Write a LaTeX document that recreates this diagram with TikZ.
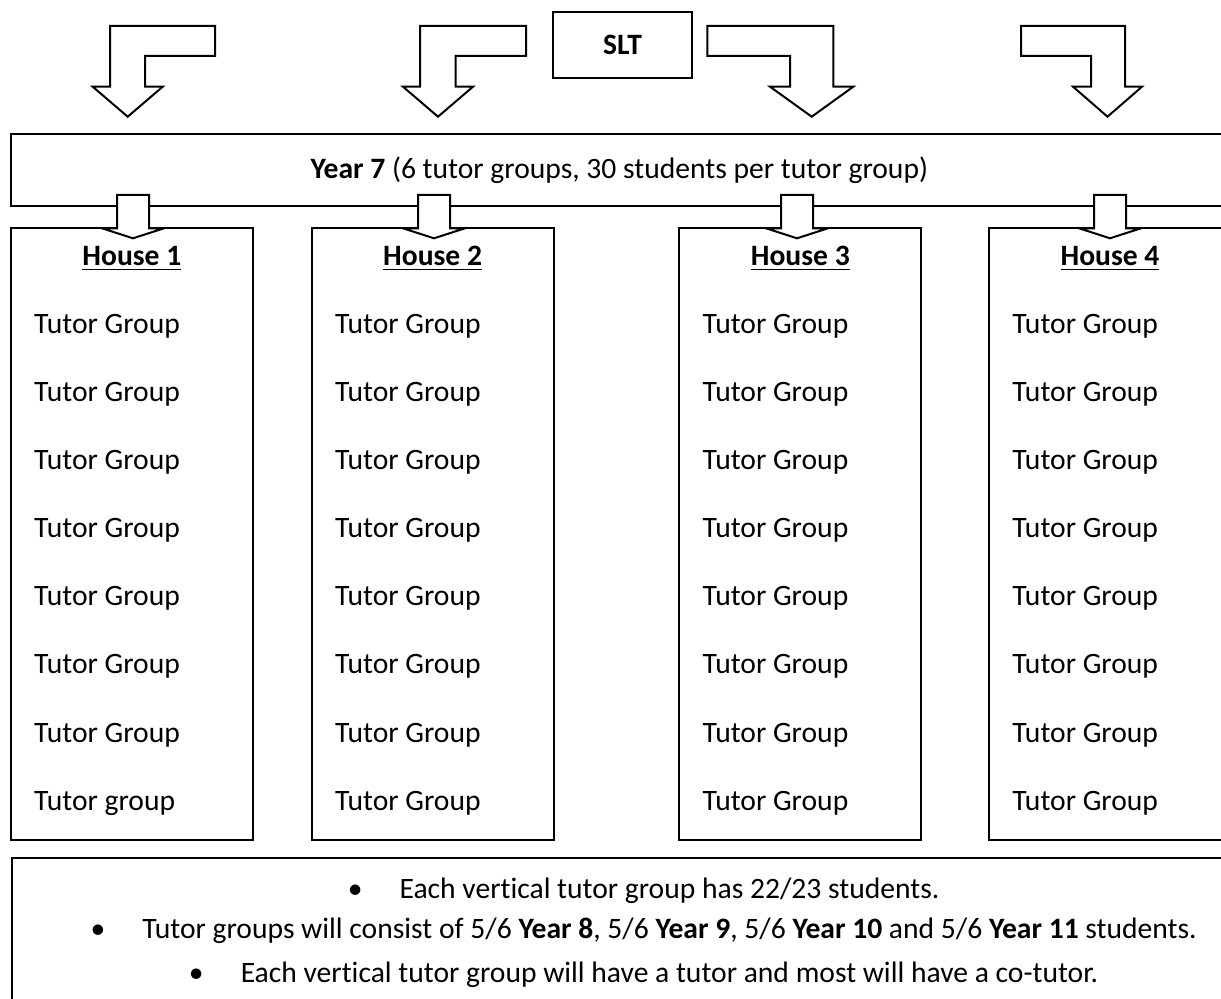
\documentclass[tikz,border=0pt]{standalone}
\usepackage{fontspec}
\setmainfont{Carlito}[RawFeature={-liga}]
\usetikzlibrary{calc}
\newcommand\thickul[1]{\setbox0=\hbox{#1}\leavevmode\rlap{\rule[-2.6pt]{\wd0}{0.9pt}}\box0}
\tikzset{
  boxnode/.style={draw=black, line width=1pt, fill=white, inner sep=0pt},
  txt/.style={inner sep=0pt, font=\fontsize{14.8pt}{17.8pt}\selectfont},
  blockarrow/.style={draw=black, line width=1pt, fill=white, line join=miter},
  downtab/.pic={
    \draw[blockarrow] (-16,0) -- (16,0) -- (16,33.3) -- (31,33.3) -- (0,43.3)
      -- (-31,33.3) -- (-16,33.3) -- cycle;
  }
}
\begin{document}
\begin{tikzpicture}[x=0.5pt, y=-0.5pt]
\useasboundingbox (0,0) rectangle (1221,999);
\clip (0,0) rectangle (1221,999);

% SLT
\node[boxnode, txt, minimum width=69.5pt, minimum height=33pt] (slt) at (622.5,45.3) {\textbf{SLT}};

% Year 7
\node[boxnode, txt, minimum width=608.65pt, minimum height=35.85pt] (y7) at (619.35,169.85)
  {\textbf{Year 7} (6 tutor groups, 30 students per tutor group)};

% top bent arrows
\draw[blockarrow] (215,26) -- (110,26) -- (110,86.7) -- (92.7,86.7) -- (127.7,116.7)
  -- (162.7,86.7) -- (145,86.7) -- (145,56) -- (215,56) -- cycle;
\draw[blockarrow] (526,26) -- (420,26) -- (420,86.7) -- (403,86.7) -- (438,116.7)
  -- (473,86.7) -- (455.5,86.7) -- (455.5,56) -- (526,56) -- cycle;
\draw[blockarrow] (707.3,26) -- (833.3,26) -- (833.3,86.7) -- (853.3,86.7) -- (811.7,116.7)
  -- (770,86.7) -- (790,86.7) -- (790,56) -- (707.3,56) -- cycle;
\draw[blockarrow] (1021,26) -- (1125,26) -- (1125,86.7) -- (1142,86.7) -- (1107.5,116.7)
  -- (1073,86.7) -- (1091,86.7) -- (1091,56) -- (1021,56) -- cycle;

% houses
\node[boxnode, minimum width=121pt, minimum height=305.85pt] (h1) at (131.85,534.15) {};
\node[boxnode, minimum width=121pt, minimum height=305.85pt] (h2) at (432.6,534.15) {};
\node[boxnode, minimum width=121pt, minimum height=305.85pt] (h3) at (800.3,534.15) {};
\node[boxnode, minimum width=121pt, minimum height=305.85pt] (h4) at (1110,534.15) {};

\foreach \h/\n in {h1/1, h2/2, h3/3, h4/4}{
  \node[txt, anchor=base] (\h head) at ($(\h.north)+(0,38)$) {\thickul{\textbf{House \n}}};
}
\foreach \h in {h1,h2,h3,h4}{
  \foreach \i in {1,...,7}{
    \node[txt, anchor=base west] (\h t\i) at ($(\h.north west)+(24,{106.7+68*(\i-1)})$) {Tutor Group};
  }
}
\node[txt, anchor=base west] (h1t8) at ($(h1.north west)+(24,582.7)$) {Tutor group};
\foreach \h in {h2,h3,h4}{
  \node[txt, anchor=base west] (\h t8) at ($(\h.north west)+(24,582.7)$) {Tutor Group};
}

% small arrows from Year 7 into houses
\pic at (133,195) {downtab};
\pic at (434,195) {downtab};
\pic at (797,195) {downtab};
\pic at (1110,195) {downtab};

% notes box
\node[boxnode, minimum width=658.5pt, minimum height=80pt, anchor=north west] (notes) at (11,857) {};
\node[txt, anchor=base] (n1) at (669.5,898) {Each vertical tutor group has 22/23 students.};
\node[txt, anchor=base] (n2) at (669.5,938) {Tutor groups will consist of 5/6 \textbf{Year 8}, 5/6 \textbf{Year 9}, 5/6 \textbf{Year 10} and 5/6 \textbf{Year 11} students.};
\node[txt, anchor=base] (n3) at (669.5,982) {Each vertical tutor group will have a tutor and most will have a co-tutor.};
\foreach \n in {n1,n2,n3}{
  \node[txt, anchor=base] (\n b) at ($(\n.base west)+(-44,0)$) {\textbullet};
}
\end{tikzpicture}
\end{document}
